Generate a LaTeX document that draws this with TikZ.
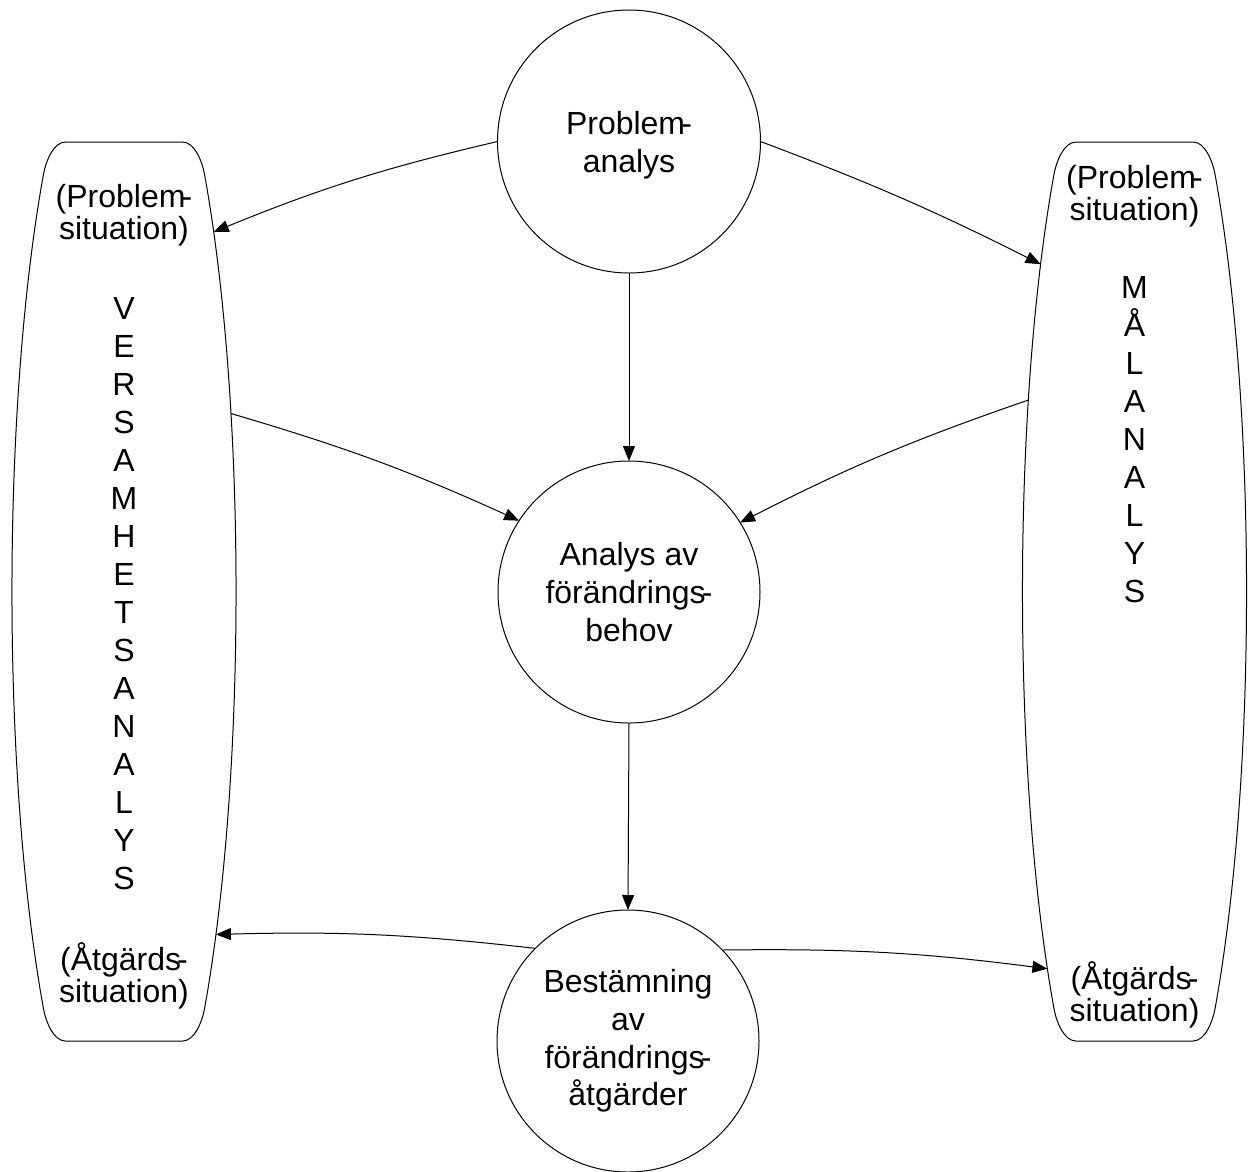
\documentclass[tikz,border=0pt]{standalone}
\usepackage{fontspec}
\setmainfont{Liberation Sans}
\usetikzlibrary{arrows.meta,shapes.geometric}
% hyphen set tight against the preceding letter
\newcommand\hy{\kern-0.12em-}
% invisible strut that lowers a centred text block inside its circle
\newcommand\textdrop[1]{\rule{0pt}{\dimexpr 23pt+#1\relax}}
\begin{document}
\begin{tikzpicture}[x=1pt,y=1pt,
  every node/.style={font=\fontsize{32}{37.8}\selectfont},
  bubble/.style={circle,draw,line width=1pt,inner sep=0pt,outer sep=0pt,align=center},
  band/.style={ellipse,draw=none,minimum width=224pt,minimum height=1200pt,inner sep=0pt,outer sep=0pt},
  txt/.style={anchor=base,inner sep=0pt,outer sep=0pt},
  arr/.style={line width=1pt,-{Triangle[length=15pt,width=12pt]}}]
\useasboundingbox (0,0) rectangle (1248,-1171);
\fill[white] (0,0) rectangle (1248,-1171);

% the three process circles
\node[bubble,minimum size=263pt] (T) at (629,-141.5) {\textdrop{8pt}Problem\hy\\analys};
\node[bubble,minimum size=262pt] (M) at (629,-592) {Analys av\\förändrings\hy\\behov};
\node[bubble,minimum size=262pt] (B) at (628,-1041) {Bestämning\\av\\förändrings\hy\\åtgärder};

% the two tall analysis bands (elliptic sides, flat top and bottom)
\node[band] (L) at (124,-591.5) {};
\node[band] (R) at (1134.5,-591.5) {};
\foreach \c in {L,R}{
  \draw[line width=1pt,shift={(\c.center)}]
    (-58.5,449.5) -- (58.5,449.5)
    .. controls (70.5,449.5) and (78.1,430.6) .. (80.6,416.8)
    arc[start angle=44,end angle=-44,x radius=112pt,y radius=600pt]
    .. controls (78.1,-430.6) and (70.5,-449.5) .. (58.5,-449.5)
    -- (-58.5,-449.5)
    .. controls (-70.5,-449.5) and (-78.1,-430.6) .. (-80.6,-416.8)
    arc[start angle=224,end angle=136,x radius=112pt,y radius=600pt]
    .. controls (-78.1,430.6) and (-70.5,449.5) .. (-58.5,449.5) -- cycle;
}

% left band texts
\node[txt] (lp1) at (124,-207) {(Problem\hy};
\node[txt] (lp2) at (124,-239) {situation)};
\foreach [count=\i from 0] \ch in {V,E,R,S,A,M,H,E,T,S,A,N,A,L,Y,S}
  \node[txt] (lv\i) at (124,{-319-38*\i}) {\ch};
\node[txt] (la1) at (124,-970) {(Åtgärds\hy};
\node[txt] (la2) at (124,-1002) {situation)};

% right band texts
\node[txt] (rp1) at (1134.5,-188) {(Problem\hy};
\node[txt] (rp2) at (1134.5,-220) {situation)};
\foreach [count=\i from 0] \ch in {M,Å,L,A,N,A,L,Y,S}
  \node[txt] (rv\i) at (1134.5,{-298-38.1*\i}) {\ch};
\node[txt] (ra1) at (1134.5,-989) {(Åtgärds\hy};
\node[txt] (ra2) at (1134.5,-1021) {situation)};

% connectors
\draw[arr] (T.180) to[bend right=4.5] (L.76.3);
\draw[arr] (T.0) to[bend left=3] (R.106.1);
\draw[arr] (T.-90) -- (M.90);
\draw[arr] (L.59.7) to[bend left=4] (M.147.8);
\draw[arr] (R.119.8) to[bend right=4] (M.32.2);
\draw[arr] (M.-90) -- (B.90);
\draw[arr] (B.135) to[bend right=4] (L.-75.7);
\draw[arr] (B.44) to[bend left=4] (R.-103.1);
\end{tikzpicture}
\end{document}
